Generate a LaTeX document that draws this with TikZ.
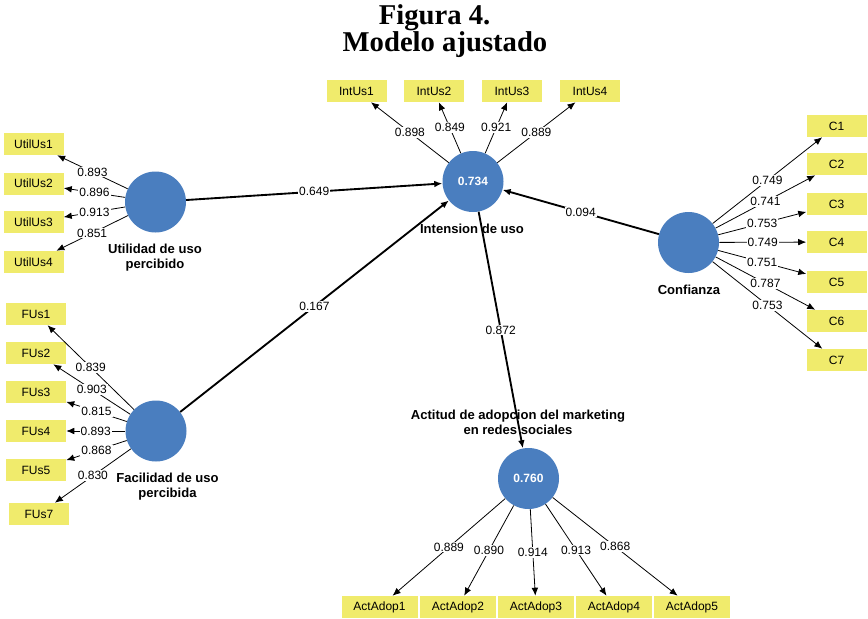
\documentclass[tikz,border=0pt]{standalone}
\usepackage{fontspec}
\setmainfont{Liberation Serif}
\setsansfont{Liberation Sans}
\usepackage{tikz}
\usetikzlibrary{arrows.meta,positioning}
\definecolor{indyellow}{HTML}{F0EB6C}
\definecolor{latblue}{HTML}{4A7EBF}
\tikzset{>={Latex[length=6pt,width=5pt]}}

\begin{document}
\begin{tikzpicture}[x=0.75pt, y=-0.75pt,
  ind/.style={fill=indyellow, minimum width=45pt, minimum height=16.5pt, inner sep=1pt, font=\sffamily\fontsize{9}{10}\selectfont},
  lat/.style={circle, fill=latblue, minimum size=45.75pt, inner sep=0pt, text=white, font=\sffamily\bfseries\fontsize{9}{10}\selectfont},
  latname/.style={align=center, font=\sffamily\bfseries\fontsize{9.8}{11.25}\selectfont},
  load/.style={->, line width=0.6pt},
  rel/.style={->, line width=1.4pt},
  val/.style={fill=white, inner sep=0.8pt, font=\sffamily\fontsize{9}{10}\selectfont}]
  \useasboundingbox (0,0) rectangle (868,618);

  % Title
  \node[anchor=base, font=\bfseries\fontsize{21.5}{24}\selectfont] (t1) at (434.5,24) {Figura 4.};
  \node[anchor=base, font=\bfseries\fontsize{21.5}{24}\selectfont] (t2) at (445,51) {Modelo ajustado};

  % Latent variables
  \node[lat] (u) at (155.5,202) {};
  \node[lat] (i) at (473,181.5) {0.734};
  \node[lat] (c) at (688.5,242.5) {};
  \node[lat] (f) at (156,431) {};
  \node[lat] (a) at (528.5,478.5) {0.760};

  \node[latname] (uname) at (155,258) {Utilidad de uso\\percibido};
  \node[latname] (iname) at (472,229) {Intension de uso};
  \node[latname] (cname) at (689,290) {Confianza};
  \node[latname] (fname) at (167.5,487) {Facilidad de uso\\percibida};
  \node[latname] (aname) at (518,422) {Actitud de adopcion del marketing\\en redes sociales};

  % Indicators
  \node[ind] (u1) at (33.5,144) {UtilUs1};
  \node[ind] (u2) at (33.5,183.5) {UtilUs2};
  \node[ind] (u3) at (33.5,222) {UtilUs3};
  \node[ind] (u4) at (33.5,262) {UtilUs4};

  \node[ind] (f1) at (36,314) {FUs1};
  \node[ind] (f2) at (36,353) {FUs2};
  \node[ind] (f3) at (36,392) {FUs3};
  \node[ind] (f4) at (36,431) {FUs4};
  \node[ind] (f5) at (36,470) {FUs5};
  \node[ind] (f7) at (39,514) {FUs7};

  \node[ind] (i1) at (356.5,91) {IntUs1};
  \node[ind] (i2) at (434,91) {IntUs2};
  \node[ind] (i3) at (512,91) {IntUs3};
  \node[ind] (i4) at (590,91) {IntUs4};

  \node[ind] (c1) at (836.5,126) {C1};
  \node[ind] (c2) at (836.5,164) {C2};
  \node[ind] (c3) at (836.5,204) {C3};
  \node[ind] (c4) at (836.5,242) {C4};
  \node[ind] (c5) at (836.5,282) {C5};
  \node[ind] (c6) at (836.5,321) {C6};
  \node[ind] (c7) at (836.5,360) {C7};

  \node[ind, minimum width=57pt] (a1) at (379.5,607) {ActAdop1};
  \node[ind, minimum width=57pt] (a2) at (458,607) {ActAdop2};
  \node[ind, minimum width=57pt] (a3) at (536,607) {ActAdop3};
  \node[ind, minimum width=57pt] (a4) at (614,607) {ActAdop4};
  \node[ind, minimum width=57pt] (a5) at (692,607) {ActAdop5};

  % Outer loadings
  \draw[load] (u) -- node[val] {0.893} (u1);
  \draw[load] (u) -- node[val] {0.896} (u2);
  \draw[load] (u) -- node[val] {0.913} (u3);
  \draw[load] (u) -- node[val] {0.851} (u4);

  \draw[load] (f) -- node[val] {0.839} (f1);
  \draw[load] (f) -- node[val] {0.903} (f2);
  \draw[load] (f) -- node[val] {0.815} (f3);
  \draw[load] (f) -- node[val] {0.893} (f4);
  \draw[load] (f) -- node[val] {0.868} (f5);
  \draw[load] (f) -- node[val] {0.830} (f7);

  \draw[load] (i) -- node[val] {0.898} (i1);
  \draw[load] (i) -- node[val] {0.849} (i2);
  \draw[load] (i) -- node[val] {0.921} (i3);
  \draw[load] (i) -- node[val] {0.889} (i4);

  \draw[load] (c) -- node[val] {0.749} (c1);
  \draw[load] (c) -- node[val] {0.741} (c2);
  \draw[load] (c) -- node[val] {0.753} (c3);
  \draw[load] (c) -- node[val] {0.749} (c4);
  \draw[load] (c) -- node[val] {0.751} (c5);
  \draw[load] (c) -- node[val] {0.787} (c6);
  \draw[load] (c) -- node[val] {0.753} (c7);

  \draw[load] (a) -- node[val] {0.889} (a1);
  \draw[load] (a) -- node[val] {0.890} (a2);
  \draw[load] (a) -- node[val] {0.914} (a3);
  \draw[load] (a) -- node[val] {0.913} (a4);
  \draw[load] (a) -- node[val] {0.868} (a5);

  % Path coefficients
  \draw[rel] (u) -- node[val] {0.649} (i);
  \draw[rel] (f) -- node[val] {0.167} (i);
  \draw[rel] (c) -- node[val] {0.094} (i);
  \draw[rel] (i) -- node[val] {0.872} (a);
\end{tikzpicture}
\end{document}
